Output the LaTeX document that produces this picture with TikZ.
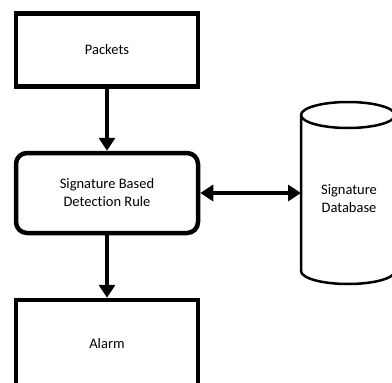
\documentclass[tikz,border=0pt]{standalone}
\usepackage{fontspec}
\setmainfont[Ligatures={NoCommon}]{Carlito}
\usetikzlibrary{arrows.meta}
\begin{document}
\begin{tikzpicture}[x=1pt,y=-1pt,
  box/.style={draw,line width=4.5pt,minimum width=182pt,inner sep=0pt,font=\fontsize{14.5}{18}\selectfont,align=center},
  txt/.style={font=\fontsize{14.5}{18}\selectfont,align=center},
  conn/.style={line width=4pt,-{Triangle[width=16pt,length=13pt]}},
  dconn/.style={line width=4pt,{Triangle[width=16pt,length=13pt]}-{Triangle[width=16pt,length=13pt]}}]
\useasboundingbox (0,0) rectangle (392,383);
\clip (0,0) rectangle (392,383);
\node[box,minimum height=73pt] (packets) at (107,50) {Packets};
\node[box,minimum height=80pt,rounded corners=11pt] (rule) at (107,193) {Signature Based\\Detection Rule};
\node[box,minimum height=90pt] (alarm) at (107,345) {};
\node[txt] (alarmtext) at (107,344) {Alarm};
% cylinder
\coordinate (dbw) at (301,193);
\draw[line width=2.5pt] (301,115) arc[start angle=180,end angle=-180,x radius=47,y radius=13];
\draw[line width=2.5pt] (301,115) -- (301,271) arc[start angle=180,end angle=0,x radius=47,y radius=13] -- (395,115);
\node[txt] (dbtext) at (349,199) {Signature\\Database};
\draw[conn] (packets.south) -- (rule.north);
\draw[conn] (rule.south) -- (alarm.north);
\draw[dconn] (rule.east) -- (dbw);
\end{tikzpicture}
\end{document}
